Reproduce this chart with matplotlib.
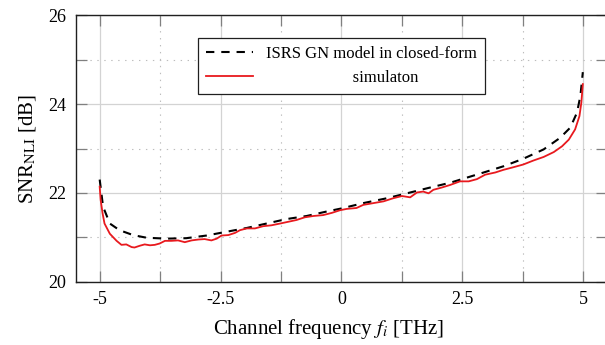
import matplotlib
matplotlib.use("Agg")
import matplotlib.pyplot as plt

freq_model = [-5.0, -4.93, -4.79, -4.59, -4.31, -4.03, -3.62, -3.21, -2.79, -2.45,
              -1.96, -1.55, -1.14, -0.72, -0.31, 0.0, 0.45, 0.94, 1.35, 1.83,
              2.25, 2.52, 2.94, 3.35, 3.76, 4.18, 4.52, 4.73, 4.87, 4.94, 4.99]
snr_model = [22.30, 21.69, 21.31, 21.16, 21.05, 20.99, 20.97, 20.98, 21.04, 21.11,
             21.21, 21.31, 21.41, 21.48, 21.58, 21.65, 21.77, 21.88, 21.99, 22.12,
             22.23, 22.32, 22.46, 22.60, 22.77, 22.98, 23.24, 23.47, 23.81, 24.19, 24.72]

freq_sim = [-5.0, -4.98, -4.94, -4.90, -4.79, -4.65, -4.55, -4.45, -4.34, -4.28,
            -4.17, -4.07, -3.96, -3.86, -3.76, -3.65, -3.52, -3.38, -3.24, -3.10,
            -2.96, -2.83, -2.69, -2.58, -2.48, -2.34, -2.20, -2.10, -1.96, -1.79,
            -1.62, -1.45, -1.27, -1.10, -0.93, -0.76, -0.58, -0.38, -0.20, -0.03,
            0.11, 0.31, 0.45, 0.66, 0.87, 1.07, 1.25, 1.42, 1.56, 1.69,
            1.80, 1.90, 2.07, 2.25, 2.45, 2.63, 2.80, 2.97, 3.18, 3.35,
            3.56, 3.76, 3.97, 4.18, 4.39, 4.56, 4.70, 4.83, 4.92, 4.96, 4.99]
snr_sim = [22.14, 21.84, 21.54, 21.31, 21.08, 20.92, 20.83, 20.84, 20.78, 20.77,
           20.81, 20.84, 20.82, 20.83, 20.86, 20.92, 20.92, 20.93, 20.89, 20.93,
           20.95, 20.96, 20.93, 20.97, 21.04, 21.05, 21.10, 21.16, 21.20, 21.20,
           21.25, 21.27, 21.31, 21.35, 21.39, 21.45, 21.48, 21.50, 21.55, 21.61,
           21.64, 21.66, 21.73, 21.77, 21.81, 21.88, 21.93, 21.90, 22.01, 22.03,
           21.99, 22.07, 22.12, 22.18, 22.26, 22.26, 22.31, 22.41, 22.46, 22.52,
           22.58, 22.64, 22.73, 22.81, 22.92, 23.05, 23.20, 23.43, 23.73, 24.04, 24.45]

x_ticks = [-5, -2.5, 0, 2.5, 5]
x_tick_labels = ["-5", "-2.5", "0", "2.5", "5"]
x_minor = [-3.75, -1.25, 1.25, 3.75]
y_ticks = [20, 22, 24, 26]
y_minor = [21, 23, 25]

plt.rcParams["font.family"] = ["Liberation Serif", "DejaVu Serif"]
plt.rcParams["mathtext.fontset"] = "stix"
plt.rcParams["lines.scale_dashes"] = False

fig = plt.figure(figsize=(6.05, 3.45), dpi=100)
ax = fig.add_axes([75.5 / 605, 63.3 / 345, 532 / 605, 266.4 / 345])

ax.plot(freq_model, snr_model, color="black", lw=1.5, dashes=(6, 5),
        label="ISRS GN model in closed-form", zorder=3)
ax.plot(freq_sim, snr_sim, color="#e8191e", lw=1.3,
        label=" " * 21 + "simulaton", zorder=4)

ax.set_xlim(-5.5, 5.5)
ax.set_ylim(20, 26)
ax.set_xticks(x_ticks)
ax.set_xticklabels(x_tick_labels)
ax.set_xticks(x_minor, minor=True)
ax.set_yticks(y_ticks)
ax.set_yticks(y_minor, minor=True)

ax.grid(which="major", color="#d3d3d3", lw=0.9, ls="-")
ax.grid(which="minor", color="#bdbdbd", lw=0.8, ls=(0, (1, 4)))
ax.set_axisbelow(True)

ax.tick_params(which="both", direction="in", top=True, right=True,
               length=8, width=0.9, color="#808080", labelsize=13, pad=7)
ax.tick_params(which="minor", labelbottom=False, labelleft=False)
for s in ax.spines.values():
    s.set_linewidth(1.0)
    s.set_color("#202020")

ax.set_xlabel(r"Channel frequency $f_i$ [THz]", fontsize=15)
ax.xaxis.set_label_coords(0.475, -0.132)
ax.set_ylabel(r"SNR$_{\mathrm{NLI}}$ [dB]", fontsize=15, labelpad=7)

leg = ax.legend(loc="upper center", bbox_to_anchor=(0.5, 0.915), borderaxespad=0,
                fontsize=12, fancybox=False, framealpha=1, edgecolor="#202020",
                handlelength=2.8, handletextpad=0.8, borderpad=0.5, labelspacing=0.45)
leg.get_frame().set_linewidth(0.9)

fig.savefig("out.png", dpi=100)
